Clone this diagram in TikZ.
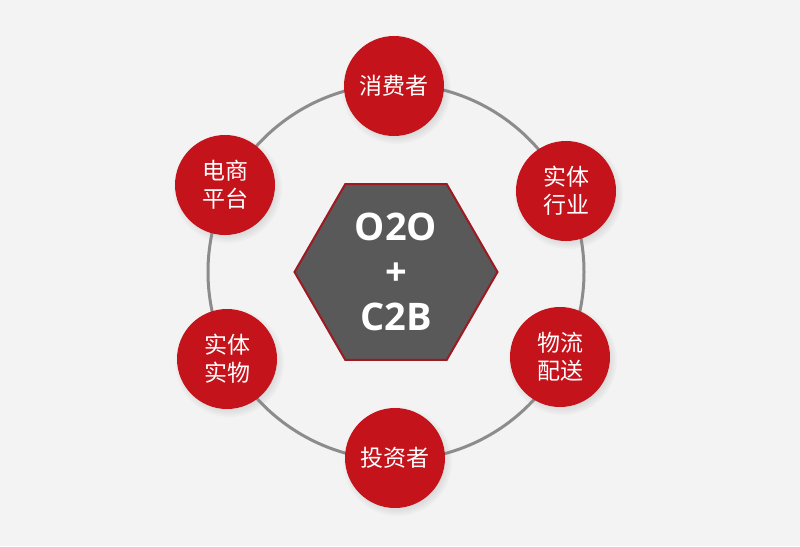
\documentclass[tikz,border=0pt]{standalone}
\usepackage{fontspec}
\usepackage{xcolor}
\usepackage{tikz}
\usetikzlibrary{shapes, shadows, positioning}

\newfontfamily\cjk{Noto Sans CJK SC}
\newfontfamily\hubfont{Open Sans}

\definecolor{ballred}{HTML}{C4131B}
\definecolor{hubgray}{HTML}{595959}
\definecolor{hubred}{HTML}{9E1A22}
\definecolor{ringgray}{HTML}{8C8C8C}
\definecolor{bggray}{HTML}{F3F3F3}

\tikzset{
  ball/.style={circle, minimum size=100pt, inner sep=0pt, fill=ballred, text=white,
    font=\cjk\fontsize{23}{28}\selectfont, align=center,
    circular drop shadow={opacity=0.2, shadow xshift=2pt, shadow yshift=-3pt}},
  hub/.style={regular polygon, regular polygon sides=6, minimum size=203pt, inner sep=0pt,
    fill=hubgray, draw=hubred, line width=2pt, text=white, align=center,
    font=\hubfont\bfseries\fontsize{38}{45}\selectfont},
  ring/.style={draw=ringgray, line width=3pt}
}

\begin{document}
\begin{tikzpicture}[x=1pt, y=-1pt]

	% background
	\fill[bggray] (0,0) rectangle (800,546);
	\useasboundingbox (0,0) rectangle (800,546);

	\node [hub] (hub) at (396,272) {O2O\\+\\C2B};

	\draw [ring] (hub.center) circle [radius=188pt];

	\foreach \x/\y/\name/\val in {394/86/consumer/消费者, 225/185/ecom/电商\\平台,
		566/191/industry/实体\\行业, 227/359/goods/实体\\实物,
		560/357/logistics/物流\\配送, 395/458/investor/投资者}
	{
		\node [ball] (\name) at (\x,\y) {\val};
	}

\end{tikzpicture}
\end{document}
